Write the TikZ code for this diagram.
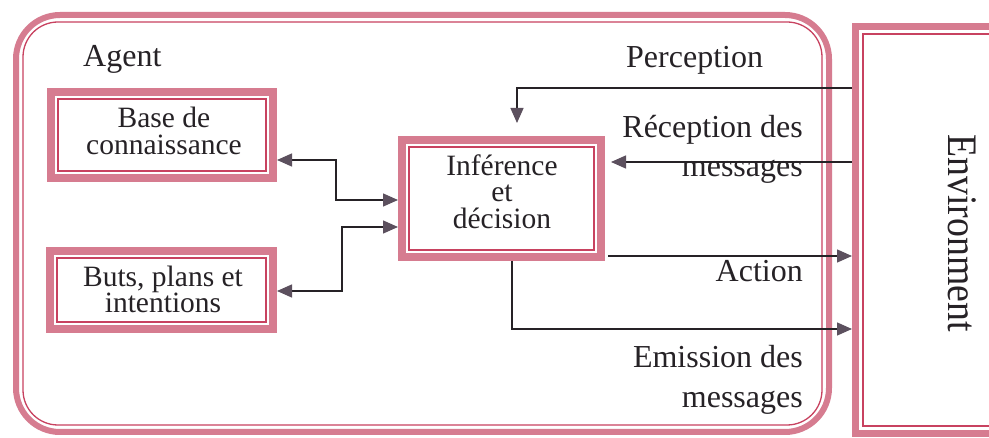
\documentclass[tikz,border=0pt]{standalone}
\usepackage{fontspec}
\setmainfont{Liberation Serif}
\usetikzlibrary{arrows.meta}

\definecolor{bandpink}{RGB}{214,124,144}
\definecolor{rimred}{RGB}{200,66,96}
\definecolor{inkc}{RGB}{38,34,38}
\definecolor{tipc}{RGB}{92,80,94}

\tikzset{
  frame/.style={draw=bandpink, line width=8pt, inner sep=0pt},
  rimline/.style={draw=rimred, line width=1.3pt},
  boxtext/.style={align=center, text=inkc, inner sep=0pt, font=\fontsize{29.5}{26.5}\selectfont},
  lbl/.style={text=inkc, inner sep=0pt, font=\fontsize{32}{32}\selectfont},
  conn/.style={draw=inkc, line width=1.4pt},
}

\begin{document}
\begin{tikzpicture}[x=1pt, y=-1pt,
  >={Triangle[length=15pt,width=13pt,color=tipc,fill=tipc]}]
\useasboundingbox (0,0) rectangle (989,438);
\clip (0,0) rectangle (989,438);
\fill[white] (0,0) rectangle (989,438);

% agent frame (rounded, double border)
\node[draw=bandpink, line width=6pt, rounded corners=44pt, inner sep=0pt,
      minimum width=813pt, minimum height=417pt] (agent) at (422.5,223.5) {};
\draw[rimline, rounded corners=35pt]
  ([shift={(10pt,-10pt)}]agent.north west) rectangle ([shift={(-10pt,10pt)}]agent.south east);

% environment frame
\node[draw=bandpink, line width=7pt, inner sep=0pt,
      minimum width=160pt, minimum height=407pt] (env) at (935.5,230) {};
\draw[rimline]
  ([shift={(11pt,-11pt)}]env.north west) rectangle ([shift={(-11pt,11pt)}]env.south east);
\node[rotate=-90, anchor=base, text=inkc, inner sep=0pt, font=\fontsize{42}{42}\selectfont]
  (envlabel) at (948,233) {\scalebox{0.9}[1]{Environment}};

% internal modules
\node[frame, minimum width=222pt, minimum height=86pt] (base) at (162,135) {};
\node[frame, minimum width=223pt, minimum height=78pt] (buts) at (161.5,290) {};
\node[frame, minimum width=199pt, minimum height=117pt] (inf) at (501.5,198.5) {};
\foreach \n in {base,buts,inf}
  \draw[rimline]
    ([shift={(11pt,-11pt)}]\n.north west) rectangle ([shift={(-11pt,11pt)}]\n.south east);

\node[boxtext] (basetext) at (164,131) {Base de\\connaissance};
\node[boxtext] (butstext) at (163,289.5) {Buts, plans et\\intentions};
\node[boxtext] (inftext) at (502,191.5) {Inférence\\et\\décision};

% labels
\node[lbl, anchor=base west] (agentlbl) at (83,67) {Agent};
\node[lbl, anchor=base west] (perclbl) at (626,68) {Perception};
\node[lbl, anchor=base east] (reclbl) at (803,138) {Réception des};
\node[lbl, anchor=base east] (recmsg) at (803,177) {messages};
\node[lbl, anchor=base east] (actlbl) at (803,282) {Action};
\node[lbl, anchor=base east] (emilbl) at (803,368) {Emission des};
\node[lbl, anchor=base east] (emimsg) at (803,408) {messages};

% connectors
\coordinate (kb1) at (336,160);
\coordinate (kb2) at (336,200);
\draw[conn,<->] (base.east |- kb1) -- (kb1) -- (kb2) -- (inf.west |- kb2);

\coordinate (bp1) at (342,291);
\coordinate (bp2) at (342,227);
\draw[conn,<->] (buts.east |- bp1) -- (bp1) -- (bp2) -- (inf.west |- bp2);

\coordinate (pc) at (517,88);
\coordinate (pcend) at (517,123);
\draw[conn,->] (env.west |- pc) -- (pc) -- (pcend);

\coordinate (rc) at (700,162);
\draw[conn,->, shorten >=6pt] (env.west |- rc) -- (inf.east |- rc);

\coordinate (ac) at (700,256);
\draw[conn,->, shorten <=3pt] (inf.east |- ac) -- (env.west |- ac);

\coordinate (em) at (512,329);
\draw[conn,->] (inf.south -| em) -- (em) -- (env.west |- em);
\end{tikzpicture}
\end{document}
